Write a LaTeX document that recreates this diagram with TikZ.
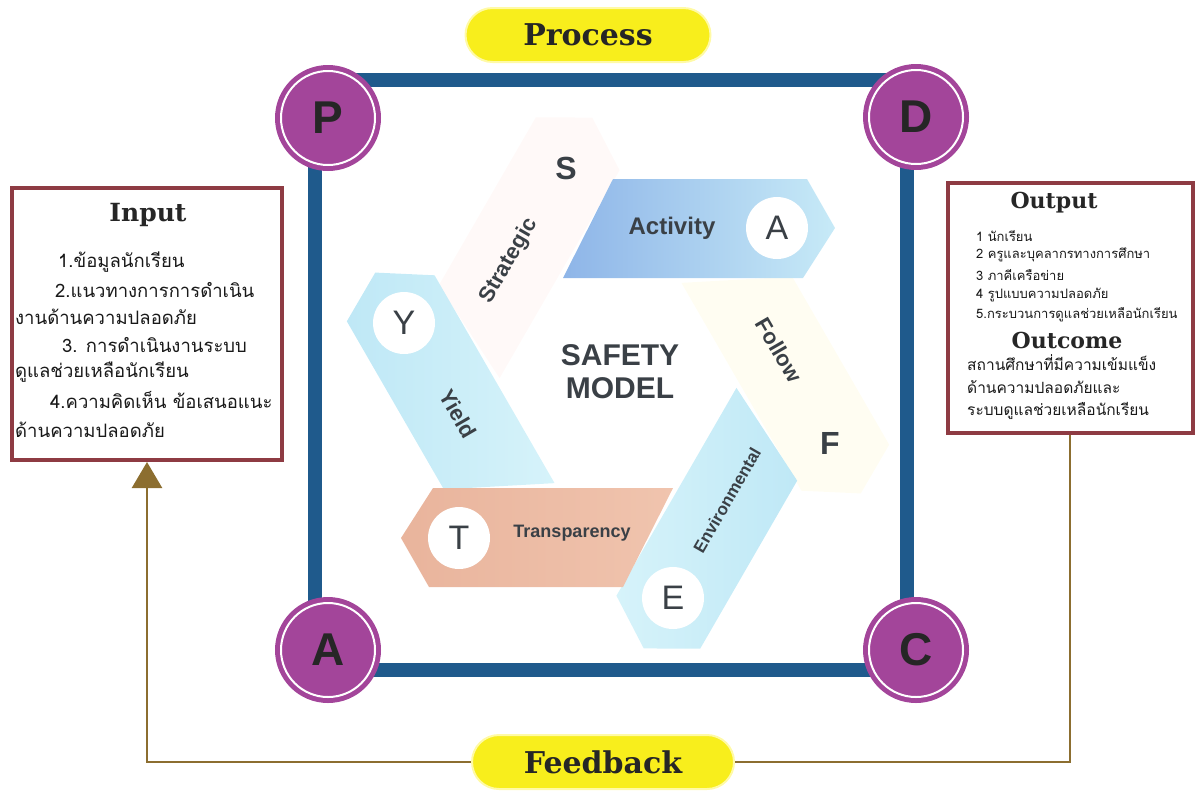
\documentclass[tikz,border=0pt]{standalone}
\usepackage{fontspec}
\setmainfont{Liberation Sans}
\newfontfamily\thai[Script=Thai]{Loma}
\newfontfamily\slab{DejaVu Serif}
\usetikzlibrary{arrows.meta}

\definecolor{pdcapurple}{HTML}{A3459A}
\definecolor{frameblue}{HTML}{1F5A8C}
\definecolor{boxred}{HTML}{8E3B43}
\definecolor{fbbrown}{HTML}{8C6E30}
\definecolor{pillyellow}{HTML}{F8EE1C}
\definecolor{ink}{HTML}{3A4046}
\definecolor{skyband}{HTML}{BFE8F6}
\definecolor{skylight}{HTML}{D6F3FA}
\definecolor{followband}{HTML}{FFFDF2}
\definecolor{strategband}{HTML}{FFF9F8}

\tikzset{
  corner/.style={circle, fill=pdcapurple, minimum size=106pt, inner sep=0pt,
    text=black!85, font=\bfseries\fontsize{46}{46}\selectfont},
  pill/.style={rounded corners=27pt, fill=pillyellow, draw=yellow!35, line width=2pt,
    minimum height=54pt, text=black!85, font=\slab\bfseries\fontsize{30}{30}\selectfont},
  infobox/.style={draw=boxred, line width=4pt, fill=white, inner sep=0pt},
  boxtitle/.style={text=black!85, font=\slab\bfseries\fontsize{22}{22}\selectfont},
  thaitext/.style={anchor=west, inner sep=0pt, text=black!90, font=\thai\fontsize{18.5}{20}\selectfont},
  thaismall/.style={anchor=west, inner sep=0pt, text=black!90, font=\thai\fontsize{13}{14}\selectfont},
  thaimid/.style={anchor=west, inner sep=0pt, text=black!90, font=\thai\fontsize{15.5}{17}\selectfont},
  letter/.style={circle, fill=white, minimum size=62pt, inner sep=0pt, text=ink,
    font=\fontsize{34}{34}\selectfont},
  bigletter/.style={text=ink, font=\bfseries\fontsize{32}{32}\selectfont},
  word/.style={text=ink, inner sep=1pt, font=\bfseries\fontsize{22}{22}\selectfont},
  fbline/.style={draw=fbbrown, line width=2.5pt}
}

\begin{document}
\begin{tikzpicture}[x=1pt, y=-1pt]
  \useasboundingbox (0,0) rectangle (1196,796);
  \def\bandshape{(-5,-204) -- (189,-204) -- (217,-155) -- (185,-105) -- (-55,-105) -- cycle}

  \draw[frameblue, line width=14pt] (315,80) rectangle (907,670);

  \begin{scope}[shift={(618,383)}]
    \fill[followband, rotate=-60] \bandshape;
    \fill[strategband, rotate=60] \bandshape;
    \shade[left color=skyband, right color=skylight, rotate=120] \bandshape;
    \shade[left color=skylight, right color=skyband, rotate=-120] \bandshape;
    \shade[left color={rgb,255:red,233;green,180;blue,156}, right color={rgb,255:red,240;green,196;blue,174}, rotate=180] \bandshape;
    \shade[left color={rgb,255:red,142;green,181;blue,232}, right color={rgb,255:red,199;green,234;blue,247}] \bandshape;
  \end{scope}

  \node[letter] (A) at (777,228) {A};
  \node[letter] (E) at (673,598) {E};
  \node[letter] (T) at (459,538) {T};
  \node[letter] (Y) at (404,323) {Y};
  \node[bigletter] (S) at (566,168) {S};
  \node[bigletter] (F) at (830,443) {F};

  \node[word, font=\bfseries\fontsize{24}{24}\selectfont] (activity) at (672,228) {Activity};
  \node[word, rotate=-60] (follow) at (779,350) {Follow};
  \node[word, rotate=60, font=\bfseries\fontsize{17}{17}\selectfont] (environ) at (727,500) {Environmental};
  \node[word, font=\bfseries\fontsize{18}{18}\selectfont] (transp) at (572,533) {Transparency};
  \node[word, rotate=-60] (yield) at (458,414) {Yield};
  \node[word, rotate=60] (strategic) at (509,261) {Strategic};

  \node[text=ink, align=center, font=\bfseries\fontsize{30}{33}\selectfont] (model) at (620,372) {SAFETY\\MODEL};

  \foreach \n/\cx/\cy in {P/328/118, D/916/117, A/328/650, C/916/650}
  {
    \node[corner] (c\n) at (\cx,\cy) {\n};
    \draw[white, line width=2pt] (c\n.center) circle (47pt);
  }

  \node[pill, minimum width=245pt] (process) at (588,35) {Process};
  \node[pill, minimum width=262pt] (feedback) at (603,762) {Feedback};

  \node[infobox, minimum width=270pt, minimum height=272pt] (input) at (147,324) {};
  \node[boxtitle, font=\slab\bfseries\fontsize{25}{25}\selectfont] (intitle) at (148,215) {Input};
  \foreach \i/\px/\py/\txt in {1/58/262/{1.ข้อมูลนักเรียน}, 2/55/290/{2.แนวทางการการดำเนิน},
      3/15/317/{งานด้านความปลอดภัย}, 4/62/345/{3. การดำเนินงานระบบ},
      5/15/372/{ดูแลช่วยเหลือนักเรียน}, 6/50/400/{4.ความคิดเห็น ข้อเสนอแนะ},
      7/15/430/{ด้านความปลอดภัย}}
    \node[thaitext] (in\i) at (\px,\py) {\txt};

  \node[infobox, minimum width=245pt, minimum height=250pt] (output) at (1070,308) {};
  \node[boxtitle] (outtitle) at (1054,203) {Output};
  \foreach \i/\py/\txt in {1/236/{1 นักเรียน}, 2/255/{2 ครูและบุคลากรทางการศึกษา},
      3/275/{3 ภาคีเครือข่าย}, 4/295/{4 รูปแบบความปลอดภัย},
      5/315/{5.กระบวนการดูแลช่วยเหลือนักเรียน}}
    \node[thaismall] (out\i) at (976,\py) {\txt};
  \node[boxtitle] (outcome) at (1067,340) {Outcome};
  \node[thaimid] (oc1) at (967,363) {สถานศึกษาที่มีความเข้มแข็ง};
  \node[thaimid] (oc2) at (967,387) {ด้านความปลอดภัยและ};
  \node[thaimid] (oc3) at (967,411) {ระบบดูแลช่วยเหลือนักเรียน};

  \draw[fbline] (output.south) |- (feedback.east);
  \draw[fbline, -{Triangle[width=30pt,length=26pt]}] (feedback.west) -| (input.south);
\end{tikzpicture}
\end{document}
